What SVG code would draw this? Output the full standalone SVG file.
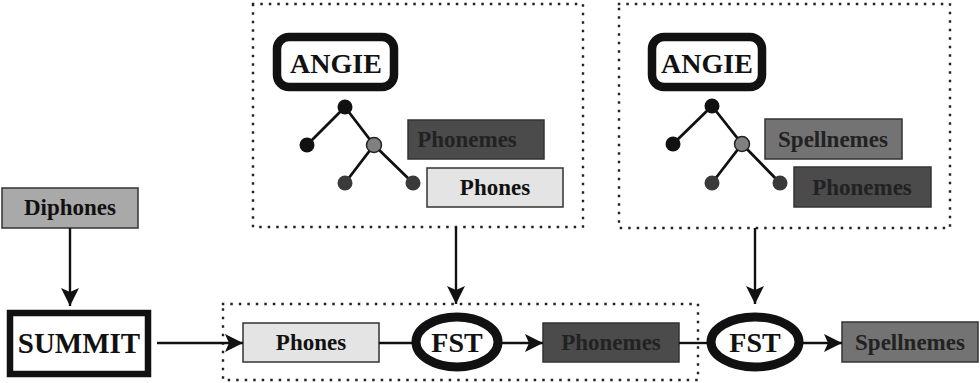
<svg xmlns="http://www.w3.org/2000/svg" width="980" height="383" viewBox="0 0 980 383">
  <defs>
    <marker id="arrow" viewBox="0 0 18 18" refX="18" refY="9" markerWidth="18" markerHeight="18" markerUnits="userSpaceOnUse" orient="auto">
      <path d="M0,0 L18,9 L0,18 L4,9 Z" fill="#111"/>
    </marker>
    <style>
      text { font-family: "Liberation Serif", "Times New Roman", serif; font-weight: bold; text-anchor: middle; fill: #111; }
      .lbl { font-size: 23px; }
      .big { font-size: 28px; }
      .dotted { fill: none; stroke: #222; stroke-width: 2.4; stroke-dasharray: 0.1 8.4; stroke-linecap: square; }
      .box { stroke: #333; stroke-width: 1.5; }
      .light { fill: #e4e4e4; }
      .mid { fill: #a9a9a9; }
      .grey { fill: #737373; }
      .dark { fill: #4b4b4b; }
      .dtxt { fill: #222; }
      .edge { fill: none; stroke: #111; stroke-width: 2.4; }
      .tree { stroke: #111; stroke-width: 2.8; fill: none; }
      .fst { fill: #fff; stroke: #111; stroke-width: 9; }
    </style>
  </defs>

  <!-- dotted grouping frames -->
  <g id="frames">
    <rect class="dotted" x="253" y="4" width="330" height="223"/>
    <rect class="dotted" x="619" y="4" width="331" height="224"/>
    <rect class="dotted" x="223" y="304" width="475" height="76"/>
  </g>

  <!-- ANGIE panel: phonemes / phones -->
  <g id="angie1">
    <rect x="277" y="37" width="117" height="50" rx="12" fill="#fff" stroke="#111" stroke-width="8.5"/>
    <text class="big" x="336" y="73">ANGIE</text>
  </g>
  <g id="tree1">
    <path class="tree" d="M345,107 L307,145 M345,107 L374,145 L345,183 M374,145 L413,183"/>
    <circle cx="345" cy="107" r="7.5" fill="#111"/>
    <circle cx="307" cy="145" r="7.5" fill="#111"/>
    <circle cx="374" cy="145" r="7.5" fill="#808080" stroke="#222" stroke-width="1.5"/>
    <circle cx="345" cy="183" r="7.5" fill="#3a3a3a"/>
    <circle cx="413" cy="183" r="7.5" fill="#3a3a3a"/>
  </g>
  <g id="phonemes1">
    <rect class="box dark" x="408" y="120" width="136" height="39"/>
    <text class="lbl dtxt" x="467" y="147">Phonemes</text>
  </g>
  <g id="phones1">
    <rect class="box light" x="427" y="168" width="136" height="39"/>
    <text class="lbl" x="495" y="195">Phones</text>
  </g>

  <!-- ANGIE panel: spellnemes / phonemes -->
  <g id="angie2">
    <rect x="652" y="37" width="110" height="50" rx="12" fill="#fff" stroke="#111" stroke-width="8.5"/>
    <text class="big" x="707" y="73">ANGIE</text>
  </g>
  <g id="tree2">
    <path class="tree" d="M712,106 L673,144 M712,106 L742,144 L712,183 M742,144 L780,183"/>
    <circle cx="712" cy="106" r="7.5" fill="#111"/>
    <circle cx="673" cy="144" r="7.5" fill="#111"/>
    <circle cx="742" cy="144" r="7.5" fill="#808080" stroke="#222" stroke-width="1.5"/>
    <circle cx="712" cy="183" r="7.5" fill="#3a3a3a"/>
    <circle cx="780" cy="183" r="7.5" fill="#3a3a3a"/>
  </g>
  <g id="spellnemes1">
    <rect class="box grey" x="765" y="119" width="137" height="40"/>
    <text class="lbl dtxt" x="833" y="147">Spellnemes</text>
  </g>
  <g id="phonemes2">
    <rect class="box dark" x="794" y="167" width="137" height="40"/>
    <text class="lbl dtxt" x="862" y="195">Phonemes</text>
  </g>

  <!-- recogniser input -->
  <g id="diphones">
    <rect class="box mid" x="2" y="188" width="136" height="40"/>
    <text class="lbl" x="70" y="215">Diphones</text>
  </g>
  <g id="summit">
    <rect x="10" y="313" width="138" height="61" fill="#fff" stroke="#111" stroke-width="6.5"/>
    <text x="79" y="353" style="font-size:29px">SUMMIT</text>
  </g>

  <!-- transducer chain -->
  <g id="phones2">
    <rect class="box light" x="243" y="323" width="136" height="39"/>
    <text class="lbl" x="311" y="350">Phones</text>
  </g>
  <g id="fst1">
    <ellipse class="fst" cx="457" cy="342" rx="41" ry="25"/>
    <text class="big" x="457" y="352">FST</text>
  </g>
  <g id="phonemes3">
    <rect class="box dark" x="543" y="323" width="136" height="39"/>
    <text class="lbl dtxt" x="611" y="350">Phonemes</text>
  </g>
  <g id="fst2">
    <ellipse class="fst" cx="755" cy="342" rx="44" ry="25"/>
    <text class="big" x="755" y="352">FST</text>
  </g>
  <g id="spellnemes2">
    <rect class="box grey" x="842" y="322" width="136" height="40"/>
    <text class="lbl dtxt" x="910" y="350">Spellnemes</text>
  </g>

  <!-- connectors -->
  <g id="connectors">
    <line class="edge" x1="70" y1="228" x2="70" y2="306" marker-end="url(#arrow)"/>
    <line class="edge" x1="157" y1="343" x2="243" y2="343" marker-end="url(#arrow)"/>
    <line class="edge" x1="379" y1="343" x2="412" y2="343"/>
    <line class="edge" x1="502" y1="343" x2="543" y2="343" marker-end="url(#arrow)"/>
    <line class="edge" x1="679" y1="343" x2="707" y2="343"/>
    <line class="edge" x1="803" y1="343" x2="842" y2="343" marker-end="url(#arrow)"/>
    <line class="edge" x1="456" y1="227" x2="456" y2="304" marker-end="url(#arrow)"/>
    <line class="edge" x1="755" y1="228" x2="755" y2="304" marker-end="url(#arrow)"/>
  </g>
</svg>
